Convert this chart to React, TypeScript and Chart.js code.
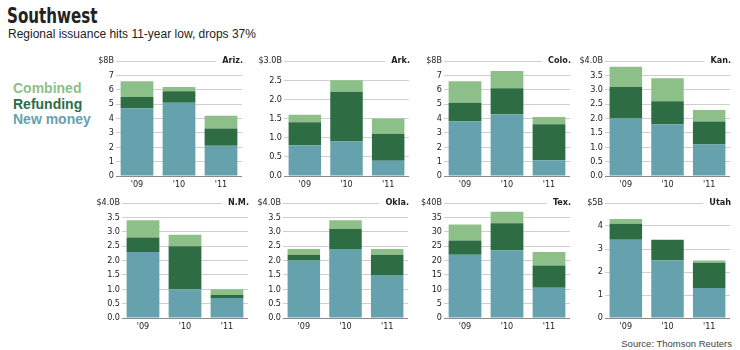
import React, { useEffect, useRef } from "react";
import { Chart, registerables } from "chart.js";
Chart.register(...registerables);

// ---- data ----
const years = ["'09", "'10", "'11"];
const regions = ["Ariz.", "Ark.", "Colo.", "Kan.", "N.M.", "Okla.", "Tex.", "Utah"];
const newMoney = [
  [4.7, 5.1, 2.1],
  [0.8, 0.9, 0.4],
  [3.8, 4.3, 1.1],
  [2.0, 1.8, 1.1],
  [2.3, 1.0, 0.7],
  [2.0, 2.4, 1.5],
  [22, 23.5, 10.5],
  [3.4, 2.5, 1.3],
];
const refunding = [
  [0.8, 0.8, 1.2],
  [0.6, 1.3, 0.7],
  [1.3, 1.8, 2.5],
  [1.1, 0.8, 0.8],
  [0.5, 1.5, 0.1],
  [0.2, 0.7, 0.7],
  [5, 9.5, 7.8],
  [0.7, 0.9, 1.1],
];
const combined = [
  [1.1, 0.3, 0.9],
  [0.2, 0.3, 0.4],
  [1.5, 1.2, 0.5],
  [0.7, 0.8, 0.4],
  [0.6, 0.4, 0.2],
  [0.2, 0.3, 0.2],
  [5.5, 4, 4.7],
  [0.2, 0, 0.1],
];
const axisMax = [8, 3, 8, 4, 4, 4, 40, 5];
const axisStep = [1, 0.5, 1, 0.5, 0.5, 0.5, 5, 1];
const topLabels = ["$8B", "$3.0B", "$8B", "$4.0B", "$4.0B", "$4.0B", "$40B", "$5B"];
const tickDecimals = [0, 1, 0, 1, 1, 1, 0, 0];

// ---- layout (plot area boxes: left, top, right, bottom) ----
const panelBox = [
  [116, 61, 242, 176],
  [284, 61, 409, 176],
  [444, 61, 570, 176],
  [605, 61, 730, 176],
  [122, 203, 248, 318],
  [283, 203, 408, 318],
  [444, 203, 570, 318],
  [605, 203, 730, 318],
];

const TEAL = "#66a1ae";
const DARK = "#2e6c44";
const LIGHT = "#8dbf89";
const FONT = "'Liberation Sans Narrow', 'DejaVu Sans Condensed', 'Liberation Sans', sans-serif";
const SANS = "'Liberation Sans', Arial, sans-serif";

const regionLabelPlugin = {
  id: "regionLabel",
  afterDraw(chart: any, _args: any, opts: any) {
    const { ctx, chartArea } = chart;
    ctx.save();
    ctx.font = `bold 9px ${FONT}`;
    const t = opts.text as string;
    const w = ctx.measureText(t).width;
    ctx.fillStyle = "#fff";
    ctx.fillRect(chartArea.right - w - 5, chartArea.top - 3, w + 8, 6);
    ctx.fillStyle = "#222";
    ctx.textAlign = "right";
    ctx.textBaseline = "middle";
    ctx.fillText(t, chartArea.right + 1, chartArea.top);
    ctx.restore();
  },
};

function Panel({ i }: { i: number }) {
  const ref = useRef<HTMLCanvasElement>(null);
  const [pl, pt, pr, pb] = panelBox[i];
  const AXW = 32, PT = 8, PR = 3, XH = 15;
  const w = pr - pl + AXW + PR;
  const h = pb - pt + PT + XH;
  useEffect(() => {
    const chart = new Chart(ref.current as HTMLCanvasElement, {
      type: "bar",
      data: {
        labels: years,
        datasets: [
          { label: "New money", data: newMoney[i], backgroundColor: TEAL },
          { label: "Refunding", data: refunding[i], backgroundColor: DARK },
          { label: "Combined", data: combined[i], backgroundColor: LIGHT },
        ],
      },
      options: {
        responsive: false,
        animation: false,
        devicePixelRatio: 1,
        layout: { padding: { top: PT, right: PR, left: 0, bottom: 0 } },
        datasets: { bar: { barPercentage: 0.78, categoryPercentage: 1 } },
        plugins: {
          legend: { display: false },
          tooltip: { enabled: false },
          regionLabel: { text: regions[i] },
        } as any,
        scales: {
          x: {
            stacked: true,
            grid: { display: false, drawTicks: false },
            border: { display: false },
            ticks: { font: { family: FONT, size: 9 }, color: "#222", padding: 3, maxRotation: 0 },
            afterFit: (s: any) => {
              s.height = XH;
            },
          },
          y: {
            stacked: true,
            min: 0,
            max: axisMax[i],
            ticks: {
              stepSize: axisStep[i],
              padding: 2,
              font: { family: FONT, size: 9 },
              color: "#222",
              callback: (v: any) =>
                Math.abs(v - axisMax[i]) < 1e-9 ? topLabels[i] : Number(v).toFixed(tickDecimals[i]),
            },
            grid: {
              drawTicks: false,
              lineWidth: 1,
              color: (c: any) => (c.tick && c.tick.value === 0 ? "#8a8a8a" : "#cfcfcf"),
            },
            border: { display: false },
            afterFit: (s: any) => {
              s.width = AXW;
            },
          },
        },
      },
      plugins: [regionLabelPlugin],
    });
    return () => chart.destroy();
  }, []);
  return (
    <canvas
      ref={ref}
      width={w}
      height={h}
      style={{ position: "absolute", left: pl - AXW, top: pt - PT, width: w, height: h }}
    />
  );
}

export default function App() {
  return (
    <div style={{ position: "absolute", left: 0, top: 0, width: 740, height: 350, background: "#fff", overflow: "hidden" }}>
      <div
        style={{
          position: "absolute",
          left: 7,
          top: 6,
          font: `bold 21px ${FONT}`,
          lineHeight: "21px",
          color: "#222",
          whiteSpace: "nowrap",
          transform: "scaleX(0.8)",
          transformOrigin: "0 0",
        }}
      >
        Southwest
      </div>
      <div style={{ position: "absolute", left: 8, top: 28, font: `12px ${SANS}`, lineHeight: "12px", color: "#222", whiteSpace: "nowrap" }}>
        Regional issuance hits 11-year low, drops 37%
      </div>
      <div style={{ position: "absolute", left: 13, top: 81, font: `bold 14px ${SANS}`, lineHeight: "14px", color: "#8dbf89", whiteSpace: "nowrap" }}>
        Combined
      </div>
      <div style={{ position: "absolute", left: 13, top: 97, font: `bold 14px ${SANS}`, lineHeight: "14px", color: "#2e6c44", whiteSpace: "nowrap" }}>
        Refunding
      </div>
      <div style={{ position: "absolute", left: 13, top: 112, font: `bold 14px ${SANS}`, lineHeight: "14px", color: "#66a1ae", whiteSpace: "nowrap" }}>
        New money
      </div>
      {regions.map((_, i) => (
        <Panel key={i} i={i} />
      ))}
      <div style={{ position: "absolute", right: 8, top: 339, font: `9.5px ${SANS}`, lineHeight: "10px", color: "#444", whiteSpace: "nowrap" }}>
        Source: Thomson Reuters
      </div>
    </div>
  );
}
